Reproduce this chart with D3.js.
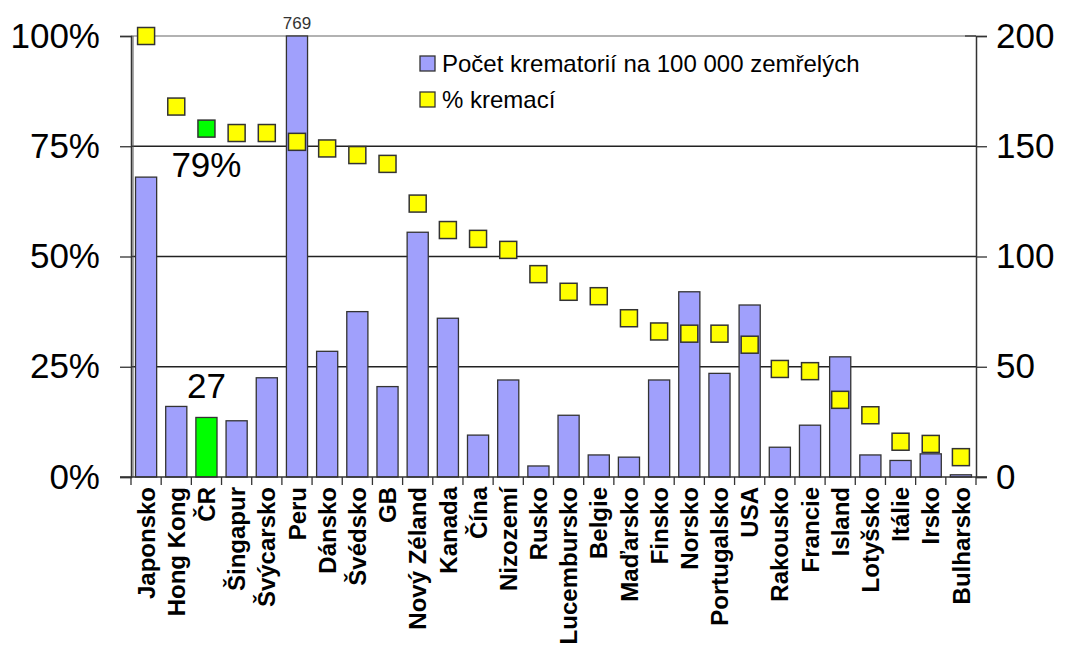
<!DOCTYPE html>
<html>
<head>
<meta charset="utf-8">
<script src="https://cdn.jsdelivr.net/npm/d3@7/dist/d3.min.js"></script>
<style>
  body { margin: 0; background: #fff; }
  svg { display: block; font-family: "Liberation Sans", Arial, sans-serif; }
</style>
</head>
<body>
<svg id="chart" width="1069" height="653"></svg>
<script>
// categories (countries)
var countries = ["Japonsko", "Hong Kong", "ČR", "Šingapur", "Švýcarsko", "Peru", "Dánsko", "Švédsko",
    "GB", "Nový Zéland", "Kanada", "Čína", "Nizozemí", "Rusko", "Lucembursko", "Belgie", "Maďarsko",
    "Finsko", "Norsko", "Portugalsko", "USA", "Rakousko", "Francie", "Island", "Lotyšsko", "Itálie",
    "Irsko", "Bulharsko"];
// Počet krematorií na 100 000 zemřelých (right axis)
var crematoria = [136, 32, 27, 25.5, 45, 769, 57, 75, 41, 111, 72, 19, 44, 5, 28, 10, 9, 44, 84, 47,
    78, 13.5, 23.5, 54.5, 10, 7.5, 10.5, 1];
// % kremací (left axis)
var cremationPct = [100, 84, 79, 78, 78, 76, 74.5, 73, 71, 62, 56, 54, 51.5, 46, 42, 41, 36, 33,
    32.5, 32.5, 30, 24.5, 24, 17.5, 14, 8, 7.5, 4.5];
var leftTicks = [0, 25, 50, 75, 100];
var rightTicks = [0, 50, 100, 150, 200];
var legendLabels = ["Počet krematorií na 100 000 zemřelých", "% kremací"];
var highlight = "ČR";

var x0 = 131, x1 = 976, yTop = 36, yBot = 477;
var svg = d3.select("#chart");

var x = d3.scaleBand().domain(countries).range([x0, x1]).paddingInner(0.3).paddingOuter(0.15);
var yL = d3.scaleLinear().domain([0, 100]).range([yBot, yTop]);
var yR = d3.scaleLinear().domain([0, 200]).range([yBot, yTop]).clamp(true);

// gridlines
svg.append("g").selectAll("line")
    .data(leftTicks.filter(function (d) { return d > 0; }))
    .enter().append("line")
    .attr("x1", x0).attr("x2", x1)
    .attr("y1", function (d) { return yL(d); })
    .attr("y2", function (d) { return yL(d); })
    .attr("stroke", function (d) { return d === 100 ? "#999" : "#222"; })
    .attr("stroke-width", 1.3);

// bars
svg.append("g").selectAll("rect")
    .data(countries)
    .enter().append("rect")
    .attr("x", function (d) { return x(d); })
    .attr("width", x.bandwidth())
    .attr("y", function (d, i) { return yR(crematoria[i]); })
    .attr("height", function (d, i) { return yBot - yR(crematoria[i]); })
    .attr("fill", function (d) { return d === highlight ? "#00ff00" : "#a0a0fc"; })
    .attr("stroke", "#333")
    .attr("stroke-width", 1.3);

// left axis
var axL = svg.append("g").attr("transform", "translate(" + x0 + ",0)")
    .call(d3.axisLeft(yL).tickValues(leftTicks).tickSize(11).tickPadding(20)
        .tickFormat(function (d) { return d + "%"; }));
// right axis
var axR = svg.append("g").attr("transform", "translate(" + x1 + ",0)")
    .call(d3.axisRight(yR).tickValues(rightTicks).tickSize(11).tickPadding(9));
[axL, axR].forEach(function (a) {
    a.select(".domain").attr("stroke", "#333").attr("stroke-width", 1.5);
    a.selectAll(".tick line").attr("stroke", "#333").attr("stroke-width", 1.3);
    a.selectAll("text").attr("font-size", 35).attr("fill", "#000")
        .attr("font-family", "'Liberation Sans', Arial, sans-serif");
});
svg.append("line").attr("x1", x0 + 2).attr("x2", x0 + 2).attr("y1", yTop).attr("y2", yBot)
    .attr("stroke", "#555").attr("stroke-width", 1);
// short inner tick at the top of the right axis
svg.append("line").attr("x1", x1 - 11).attr("x2", x1).attr("y1", yTop).attr("y2", yTop)
    .attr("stroke", "#333").attr("stroke-width", 1.3);

// bottom axis with ticks at category boundaries
var bounds = countries.map(function (d) { return x(d) - x.step() * x.paddingInner() / 2; });
bounds.push(x1);
bounds[0] = x0;
var axB = svg.append("g");
axB.append("line").attr("x1", x0 - 11).attr("x2", x1 + 11).attr("y1", yBot).attr("y2", yBot)
    .attr("stroke", "#333").attr("stroke-width", 1.5);
axB.selectAll("line.t").data(bounds).enter().append("line").attr("class", "t")
    .attr("x1", function (d) { return d; }).attr("x2", function (d) { return d; })
    .attr("y1", yBot).attr("y2", yBot + 8)
    .attr("stroke", "#333").attr("stroke-width", 1.3);
axB.selectAll("text").data(countries).enter().append("text")
    .attr("transform", function (d) {
        return "translate(" + (x(d) + x.bandwidth() / 2) + "," + (yBot + 10) + ") rotate(-90)";
    })
    .attr("dy", "0.36em")
    .attr("text-anchor", "end")
    .attr("font-size", 24)
    .attr("font-weight", "bold")
    .text(function (d) { return d; });

// markers (% kremací)
var ms = 17;
svg.append("g").selectAll("rect")
    .data(countries)
    .enter().append("rect")
    .attr("x", function (d) { return x(d) + x.bandwidth() / 2 - ms / 2; })
    .attr("y", function (d, i) { return yL(cremationPct[i]) - ms / 2; })
    .attr("width", ms).attr("height", ms)
    .attr("fill", function (d) { return d === highlight ? "#00ff00" : "#ffff00"; })
    .attr("stroke", "#333")
    .attr("stroke-width", 1.5);

// annotations
var hi = countries.indexOf(highlight);
var peru = countries.indexOf("Peru");
svg.append("text")
    .attr("x", x(highlight) + x.bandwidth() / 2).attr("y", yL(cremationPct[hi]) + 48)
    .attr("text-anchor", "middle").attr("font-size", 35)
    .text(cremationPct[hi] + "%");
svg.append("text")
    .attr("x", x(highlight) + x.bandwidth() / 2).attr("y", yR(crematoria[hi]) - 19)
    .attr("text-anchor", "middle").attr("font-size", 35)
    .text(crematoria[hi]);
svg.append("text")
    .attr("x", x("Peru") + x.bandwidth() / 2).attr("y", yTop - 7)
    .attr("text-anchor", "middle").attr("font-size", 17).attr("fill", "#333")
    .text(crematoria[peru]);

// legend
var legColors = ["#a0a0fc", "#ffff00"];
var leg = svg.append("g").attr("transform", "translate(420,56)");
legendLabels.forEach(function (t, i) {
    leg.append("rect").attr("x", 0).attr("y", i * 36).attr("width", 15).attr("height", 15)
        .attr("fill", legColors[i]).attr("stroke", "#333").attr("stroke-width", 1.3);
    leg.append("text").attr("x", 22).attr("y", i * 36 + 16)
        .attr("font-size", 24).text(t);
});
</script>
</body>
</html>
